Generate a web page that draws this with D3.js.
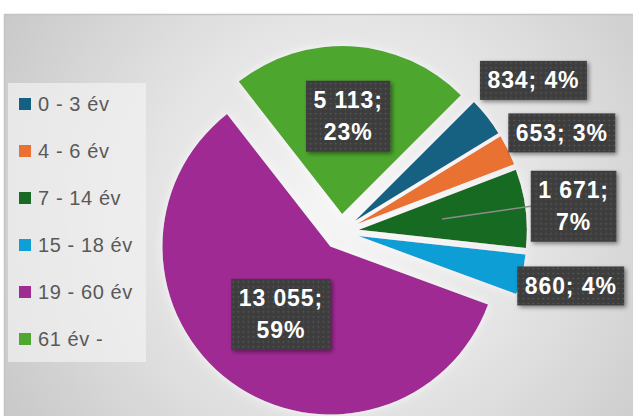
<!DOCTYPE html>
<html>
<head>
<meta charset="utf-8">
<script src="https://cdn.jsdelivr.net/npm/d3@7"></script>
<style>
  body { margin: 0; background: #fff; }
  svg { display: block; }
</style>
</head>
<body>
<div id="chart"></div>
<script>
// Data
const categories = ["0 - 3 év", "4 - 6 év", "7 - 14 év", "15 - 18 év", "19 - 60 év", "61 év -"];
const values = [834, 653, 1671, 860, 13055, 5113];
const percentLabels = ["4%", "3%", "7%", "4%", "59%", "23%"];
const colors = ["#156082", "#E97132", "#196B24", "#0F9ED5", "#A02B93", "#4EA72E"];

// label layout (Excel placed these): two lines or one, distance from centre, angle nudge
const labelTwoLines = [false, false, true, false, true, true];
const labelDist = [245, 242, 234, 236, 102, 116];
const labelNudge = [0, 2, 1, 0, 0, 0];
const labelLeader = [false, false, true, false, false, false];

const width = 633, height = 416;
const cx = 341, cy = 232, radius = 168, explode = 18;

const svg = d3.select("#chart")
  .append("svg")
  .attr("width", width)
  .attr("height", height);

const defs = svg.append("defs");

const grad = defs.append("radialGradient")
  .attr("id", "bg")
  .attr("gradientUnits", "userSpaceOnUse")
  .attr("cx", 345).attr("cy", 210).attr("r", 430);
grad.append("stop").attr("offset", "0%").attr("stop-color", "#f6f6f6");
grad.append("stop").attr("offset", "45%").attr("stop-color", "#e4e4e4");
grad.append("stop").attr("offset", "100%").attr("stop-color", "#c4c4c4");

const dots = defs.append("pattern")
  .attr("id", "dots")
  .attr("patternUnits", "userSpaceOnUse")
  .attr("width", 5).attr("height", 5);
dots.append("rect").attr("width", 5).attr("height", 5).attr("fill", "#3e3e3e");
dots.append("circle").attr("cx", 2.5).attr("cy", 2.5).attr("r", 0.8).attr("fill", "#5c5c5c");

const shadow = defs.append("filter").attr("id", "shadow")
  .attr("x", "-20%").attr("y", "-20%").attr("width", "150%").attr("height", "150%");
shadow.append("feDropShadow")
  .attr("dx", 2).attr("dy", 2).attr("stdDeviation", 2)
  .attr("flood-color", "#000").attr("flood-opacity", 0.45);

const glow = defs.append("filter").attr("id", "glow")
  .attr("x", "-20%").attr("y", "-20%").attr("width", "140%").attr("height", "140%");
glow.append("feGaussianBlur").attr("in", "SourceAlpha").attr("stdDeviation", 5).attr("result", "blur");
glow.append("feFlood").attr("flood-color", "#fff").attr("flood-opacity", 0.7);
glow.append("feComposite").attr("in2", "blur").attr("operator", "in").attr("result", "halo");
const merge = glow.append("feMerge");
merge.append("feMergeNode").attr("in", "halo");
merge.append("feMergeNode").attr("in", "SourceGraphic");

// background panel
svg.append("rect")
  .attr("x", 4.5).attr("y", 14.5)
  .attr("width", width).attr("height", height)
  .attr("fill", "url(#bg)")
  .attr("stroke", "#c4c4c4")
  .attr("stroke-width", 1.5);

// legend
svg.append("rect")
  .attr("x", 8).attr("y", 83)
  .attr("width", 138).attr("height", 279)
  .attr("fill", "#f2f2f2")
  .attr("opacity", 0.7);

const legendY = d3.scalePoint()
  .domain(categories)
  .range([104, 339]);

const legend = svg.append("g")
  .selectAll("g")
  .data(categories)
  .join("g")
  .attr("transform", d => `translate(19, ${legendY(d)})`);

legend.append("rect")
  .attr("x", 0).attr("y", -6)
  .attr("width", 12).attr("height", 12)
  .attr("fill", (d, i) => colors[i]);

legend.append("text")
  .attr("x", 19)
  .attr("dy", "0.36em")
  .style("font-family", "'Liberation Sans', Arial, sans-serif")
  .style("font-size", "20px")
  .style("letter-spacing", "0.6px")
  .attr("fill", "#595959")
  .text(d => d);

// pie
const pie = d3.pie()
  .sort(null)
  .startAngle(Math.PI / 4)
  .endAngle(Math.PI / 4 + 2 * Math.PI)
  .value(d => d);

const arc = d3.arc().innerRadius(0).outerRadius(radius);
const arcs = pie(values);
const mid = d => (d.startAngle + d.endAngle) / 2;

const pieG = svg.append("g")
  .attr("transform", `translate(${cx}, ${cy})`);

pieG.append("g")
  .attr("filter", "url(#glow)")
  .selectAll("path")
  .data(arcs)
  .join("path")
  .attr("transform", d => `translate(${Math.sin(mid(d)) * explode}, ${-Math.cos(mid(d)) * explode})`)
  .attr("d", arc)
  .attr("fill", (d, i) => colors[i]);

// data labels
const fmt = d3.formatLocale({decimal: ",", thousands: " ", grouping: [3], currency: ["", ""]}).format(",d");

const labelG = pieG.append("g");

arcs.forEach((d, i) => {
  const a = mid(d) + labelNudge[i] * Math.PI / 180;
  const lx = Math.sin(a) * labelDist[i];
  const ly = -Math.cos(a) * labelDist[i];
  const lines = labelTwoLines[i]
    ? [fmt(values[i]) + ";", percentLabels[i]]
    : [fmt(values[i]) + "; " + percentLabels[i]];

  const g = labelG.append("g").attr("transform", `translate(${lx}, ${ly})`);
  const box = g.append("rect").attr("fill", "url(#dots)").attr("filter", "url(#shadow)");
  const lineH = 32;
  const txt = g.append("text")
    .attr("text-anchor", "middle")
    .style("font-family", "'Liberation Sans', Arial, sans-serif")
    .style("font-size", "23px")
    .style("font-weight", "bold")
    .style("letter-spacing", "0.9px")
    .attr("fill", "#fff");
  lines.forEach((l, k) => {
    txt.append("tspan")
      .attr("x", 0)
      .attr("y", (k - (lines.length - 1) / 2) * lineH)
      .attr("dy", "0.35em")
      .text(l);
  });
  const bb = txt.node().getBBox();
  const bw = bb.width + 15;
  const bh = (lines.length - 1) * lineH + 39;
  box.attr("x", -bw / 2).attr("y", -bh / 2).attr("width", bw).attr("height", bh);

  if (labelLeader[i]) {
    const c = arc.centroid(d);
    const ox = Math.sin(mid(d)) * explode, oy = -Math.cos(mid(d)) * explode;
    labelG.insert("line", ":first-child")
      .attr("x1", c[0] + ox).attr("y1", c[1] + oy)
      .attr("x2", lx - bw / 2).attr("y2", ly)
      .attr("stroke", "#8c8c8c")
      .attr("stroke-width", 1.5);
  }
});
</script>
</body>
</html>
